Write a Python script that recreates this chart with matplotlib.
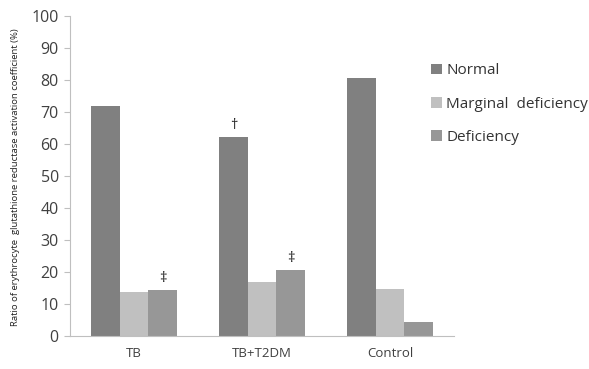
import numpy as np
import matplotlib
matplotlib.use("Agg")
import matplotlib.pyplot as plt

plt.rcParams['font.family'] = ['Open Sans', 'DejaVu Sans']

groups = ["TB", "TB+T2DM", "Control"]
normal = [72.0, 62.1, 80.5]
marginal = [13.8, 16.9, 14.7]
deficiency = [14.3, 20.5, 4.4]
series_names = ["Normal", "Marginal  deficiency", "Deficiency"]
colors = ["#808080", "#c0c0c0", "#979797"]

fig = plt.figure(figsize=(5.89, 3.69), dpi=100)
ax = fig.add_axes([0.1188, 0.0894, 0.652, 0.867])

x = np.arange(len(groups))
w = 0.223
bars = []
for k, (vals, name, c) in enumerate(zip([normal, marginal, deficiency], series_names, colors)):
    b = ax.bar(x + (k - 1) * w, vals, width=w, color=c, label=name)
    bars.append(b)

# significance marks
def mark(bar, sym):
    ax.annotate(sym, (bar.get_x() + bar.get_width() / 2, bar.get_height()),
                xytext=(0, 3), textcoords="offset points",
                ha="center", va="bottom", fontsize=10.5, color="#222222")

mark(bars[0][1], "†")
mark(bars[2][0], "‡")
mark(bars[2][1], "‡")

ax.set_xlim(-0.5, 2.5)
ax.set_ylim(0, 100)
ax.set_yticks(range(0, 101, 10))
ax.set_xticks(x)
ax.set_xticklabels(groups)
ax.tick_params(axis="y", length=4, color="#bfbfbf", labelsize=11.5, labelcolor="#404040", pad=4)
ax.tick_params(axis="x", length=0, labelsize=9.5, labelcolor="#404040", pad=8)
for s in ["top", "right"]:
    ax.spines[s].set_visible(False)
for s in ["left", "bottom"]:
    ax.spines[s].set_color("#bfbfbf")

fig.text(0.027, 0.52, "Ratio of erythrocyte  glutathione reductase activation coefficient (%)",
         rotation=90, ha="center", va="center", fontsize=6.8, color="#222222")

ax.legend(loc="upper left", bbox_to_anchor=(0.94, 0.852), frameon=False, fontsize=11,
          borderaxespad=0, borderpad=0,
          handlelength=0.7, handleheight=0.7, handletextpad=0.3, labelspacing=1.2,
          labelcolor="#333333")

fig.savefig("out.png", dpi=100)
